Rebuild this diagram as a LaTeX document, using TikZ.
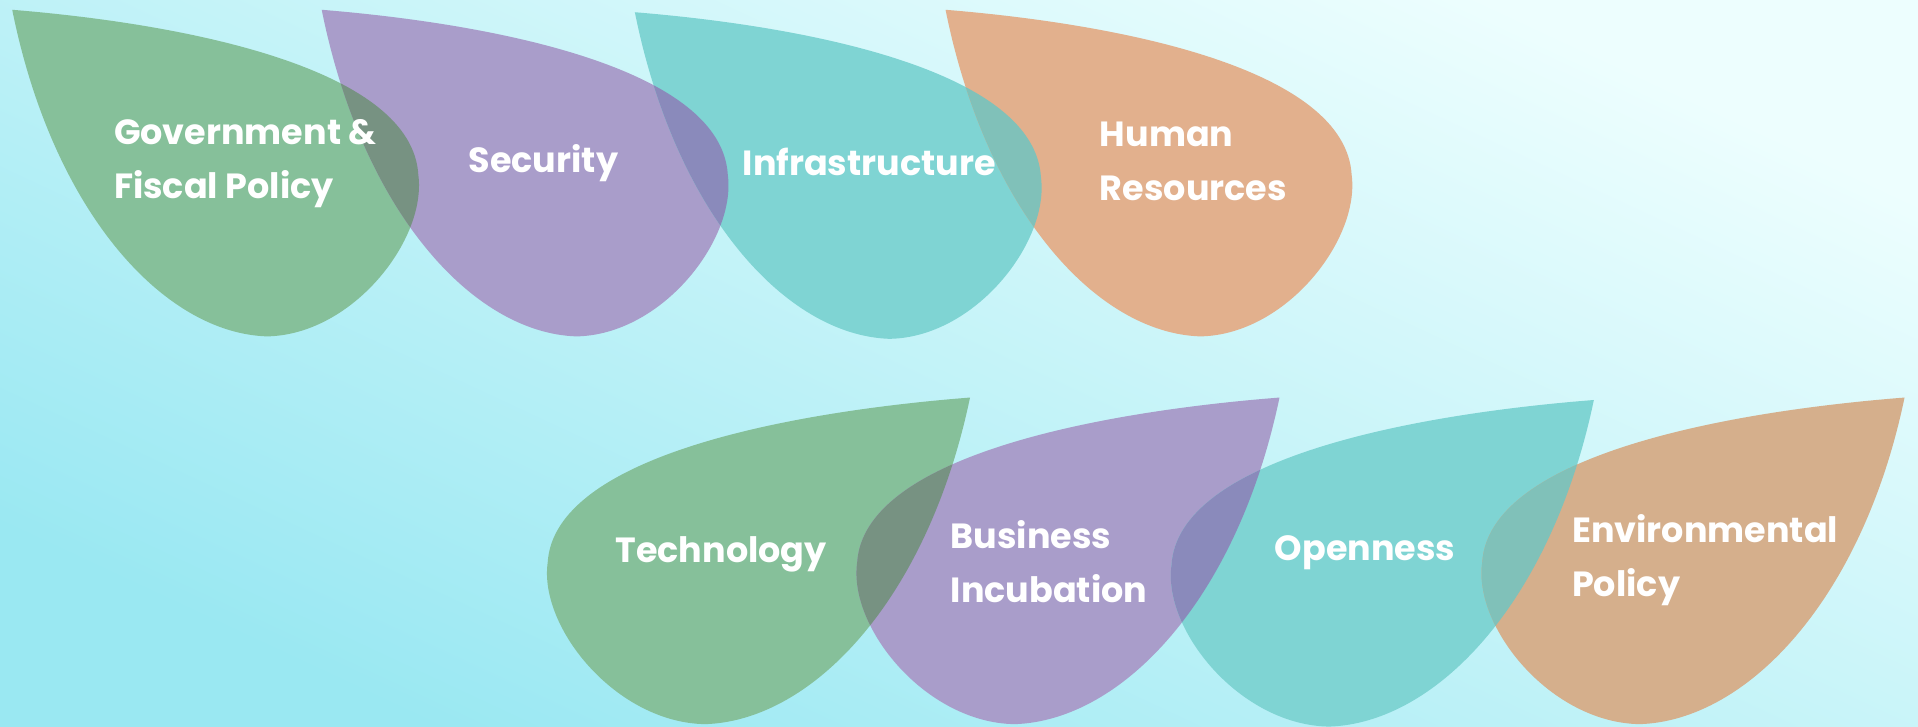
\documentclass[tikz,border=0pt]{standalone}
\usepackage{fontspec}
\setmainfont{Poppins}

\definecolor{bgtop}{HTML}{EDFEFE}
\definecolor{bgbottom}{HTML}{9AE8F2}
\definecolor{leafgreen}{HTML}{86C09A}
\definecolor{leafpurple}{HTML}{A99DCA}
\definecolor{leafteal}{HTML}{7FD4D3}
\definecolor{leaforange}{HTML}{E2B08D}
\definecolor{leaforangelow}{HTML}{D5AF8C}
\definecolor{mixgp}{HTML}{779282}
\definecolor{mixpt}{HTML}{8A8ABB}
\definecolor{mixto}{HTML}{80C1B9}

% one leaf, tip at the origin, bulging to the right and down
\newcommand{\leafpath}{(0,0) .. controls (147,12) and (327,49) .. (332,135)
  .. controls (339,188) and (278,266) .. (208,267)
  .. controls (123,264) and (33,164) .. (0,0) -- cycle}

\tikzset{
  leaftext/.style={text=white, anchor=west, align=left, inner sep=0pt,
    font=\bfseries\fontsize{28.6}{44}\selectfont},
  flip/.style={xscale=-1.04}
}

\begin{document}
\begin{tikzpicture}[x=1pt,y=-1pt]
\useasboundingbox (0,0) rectangle (1568,594);
\shade[top color=bgtop, bottom color=bgbottom, shading angle=-25] (0,0) rectangle (1568,594);

% top row
\fill[leafgreen, shift={(10,8)}] \leafpath;
\fill[leafpurple, shift={(263,8)}] \leafpath;
\fill[leafteal, shift={(519,10)}] \leafpath;
\fill[leaforange, shift={(773,8)}] \leafpath;
\begin{scope}
\clip[shift={(10,8)}] \leafpath;
\fill[mixgp, shift={(263,8)}] \leafpath;
\end{scope}
\begin{scope}
\clip[shift={(263,8)}] \leafpath;
\fill[mixpt, shift={(519,10)}] \leafpath;
\end{scope}
\begin{scope}
\clip[shift={(519,10)}] \leafpath;
\fill[mixto, shift={(773,8)}] \leafpath;
\end{scope}

% bottom row, mirrored
\fill[leafgreen, shift={(793,325)}, flip] \leafpath;
\fill[leafpurple, shift={(1046,325)}, flip] \leafpath;
\fill[leafteal, shift={(1303,327)}, flip] \leafpath;
\fill[leaforangelow, shift={(1557,325)}, flip] \leafpath;
\begin{scope}
\clip[shift={(793,325)}, flip] \leafpath;
\fill[mixgp, shift={(1046,325)}, flip] \leafpath;
\end{scope}
\begin{scope}
\clip[shift={(1046,325)}, flip] \leafpath;
\fill[mixpt, shift={(1303,327)}, flip] \leafpath;
\end{scope}
\begin{scope}
\clip[shift={(1303,327)}, flip] \leafpath;
\fill[mixto, shift={(1557,325)}, flip] \leafpath;
\end{scope}

\node[leaftext] (gov) at (93,134) {Government \&\\Fiscal Policy};
\node[leaftext] (sec) at (383,133) {Security};
\node[leaftext] (infra) at (607,132) {Infrastructure};
\node[leaftext] (hr) at (899,132) {Human\\Resources};
\node[leaftext] (tech) at (503,453) {Technology};
\node[leaftext] (biz) at (777,459) {Business\\Incubation};
\node[leaftext] (open) at (1042,452) {Openness};
\node[leaftext] (env) at (1285,458) {Environmental\\Policy};
\end{tikzpicture}
\end{document}
